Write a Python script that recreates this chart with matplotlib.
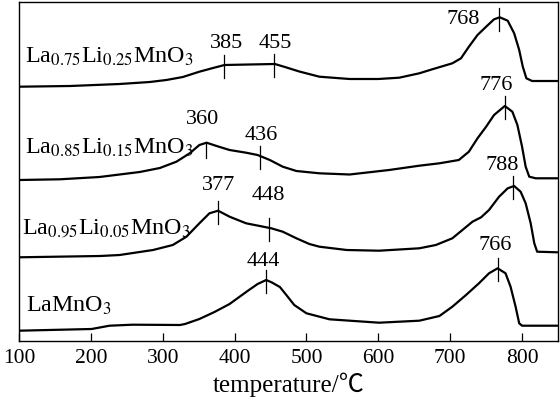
import numpy as np
import matplotlib
matplotlib.use("Agg")
import matplotlib.pyplot as plt

plt.rcParams['font.family'] = ['Liberation Serif', 'DejaVu Serif']
plt.rcParams['mathtext.fontset'] = 'stix'

# --- data (temperature in degC, signal in arbitrary units) ---
t1 = [100, 171, 240, 282, 305, 328, 351, 370, 386, 420, 456, 470, 490, 518, 560, 600, 629,
      657, 675, 703, 715, 726, 738, 750, 761, 769, 780, 789, 796, 801, 806, 814, 849]
s1 = [254.3, 255, 257, 259, 261, 264, 269.3, 273, 276, 276.5, 277, 274, 269.5, 264.3, 262, 262, 263.3,
      267.7, 271.7, 277.7, 282.7, 294.3, 306, 314.3, 321.7, 323.7, 320.3, 307.7, 291, 274.3, 262.7, 260, 260]

t2 = [100, 157, 212, 240, 268, 296, 319, 337.5, 351, 361, 375, 393, 416, 432, 449, 467, 486, 518, 560,
      615, 657, 685, 712, 726, 738, 750, 761, 776, 786.5, 793.5, 800, 805, 810, 819, 849]
s2 = [161, 161.7, 164, 166.5, 169, 173, 179.3, 187.7, 196, 198.3, 195, 191, 188.3, 186, 181, 174.3, 170, 167.7, 166.5,
      171, 175.3, 177.7, 181, 189.3, 202.7, 214.3, 226, 235, 229.3, 216, 194.3, 174.3, 164.3, 162.7, 162.7]

t3 = [100, 213, 240, 286.5, 314, 333, 351, 365, 377, 393, 416, 435, 451, 467, 486, 504, 518, 556, 601,
      657, 680, 703, 717, 731, 743, 754, 768, 780, 789, 798, 805, 812, 817, 821, 849]
s3 = [83.7, 85, 86, 91, 96, 104.3, 117.7, 127.7, 130.3, 124.3, 117.7, 115, 112.7, 109.3, 102.7, 97, 94.3, 91, 90.3,
      92.7, 96, 102.7, 111, 119.3, 123.7, 131, 144.3, 152.7, 155, 149.3, 137.7, 117.7, 97.7, 89.3, 88.7]

t4 = [100, 201, 226, 258, 324, 331, 351, 372, 393, 418, 432, 444, 452, 458, 463, 472, 483, 500, 532, 601,
      657, 685, 703, 722, 740, 754, 766, 777, 784, 791, 796, 800, 849]
s4 = [10.3, 12, 15.3, 16.3, 16, 17, 22, 29, 37, 50, 57, 61, 58.5, 56, 54, 46, 36, 27.7, 21.7, 18.3,
      20.3, 25, 34.3, 46, 57.7, 67.7, 72.7, 67.7, 54.3, 34.3, 17.7, 15.3, 15.3]

names = ['La$_{0.75}$Li$_{0.25}$MnO$_3$', 'La$_{0.85}$Li$_{0.15}$MnO$_3$',
         'La$_{0.95}$Li$_{0.05}$MnO$_3$', 'LaMnO$_3$']

peaks1 = [385, 455, 768]
peaks2 = [360, 436, 776]
peaks3 = [377, 448, 788]
peaks4 = [444, 766]

xticks = [100, 200, 300, 400, 500, 600, 700, 800]

# --- figure ---
fig = plt.figure(figsize=(5.6, 3.98), dpi=100)
ax = fig.add_axes([19/560, 57/398, 539/560, 339/398])

# marker extents (above, below) around curve value
mk_ext = {360: (0, 15)}
curves = [(t1, s1, peaks1), (t2, s2, peaks2), (t3, s3, peaks3), (t4, s4, peaks4)]
for t, s, pk in curves:
    ax.plot(t, s, color='black', lw=1.6, solid_joinstyle='round', solid_capstyle='round')
    for p in pk:
        v = np.interp(p, t, s)
        up, dn = mk_ext.get(p, (10, 13))
        ax.plot([p, p], [v - dn, v + up], color='black', lw=0.9)

# compound labels
lab_pos = [(108, 278), (108, 187), (104, 108), (110, 29)]
for nm, (x, y) in zip(names, lab_pos):
    ax.text(x, y, nm, fontsize=17.3, ha='left', va='baseline')

# peak labels
peak_lab = [(385, 389, 298), (455, 456, 298), (768, 718, 321),
            (360, 356, 221), (436, 437, 206), (776, 764, 256),
            (377, 378, 156), (448, 447, 145), (788, 772, 175),
            (444, 440, 80), (766, 762, 96)]
for val, x, y in peak_lab:
    ax.text(x, y, str(val), fontsize=16, ha='center', va='center')

ax.set_xlim(100, 850)
ax.set_ylim(0, 339)
ax.set_xticks(xticks)
ax.set_xticklabels([str(v) for v in xticks], fontsize=15.5)
ax.set_yticks([])
ax.tick_params(axis='x', direction='in', length=6, width=0.9, pad=6)
for sp in ax.spines.values():
    sp.set_linewidth(1.0)
ax.set_xlabel('temperature/℃', fontsize=18, labelpad=3,
              family=['Liberation Serif', 'Noto Sans CJK SC', 'DejaVu Sans'])

fig.savefig('out.png', dpi=100)
